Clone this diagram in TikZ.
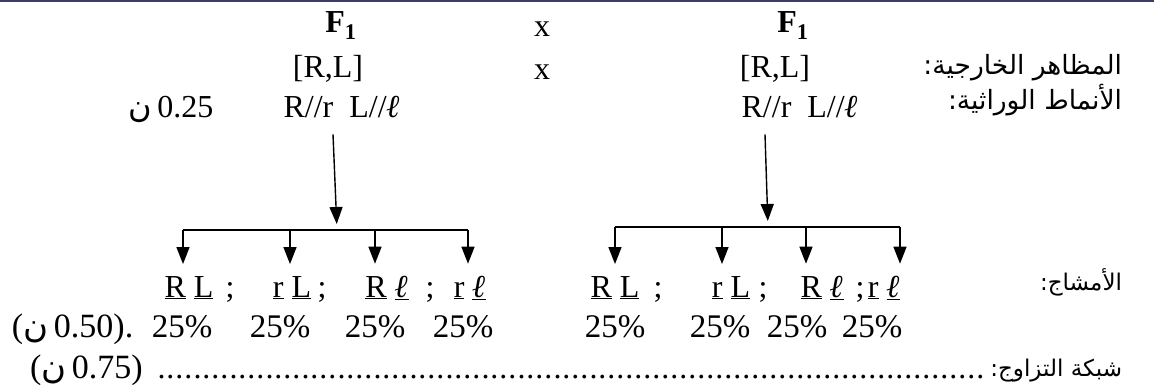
\documentclass[tikz,border=0pt]{standalone}
\usepackage{fontspec}
\setmainfont{Liberation Serif}
\newfontfamily\arf[Script=Arabic]{DejaVu Sans}
\usetikzlibrary{arrows.meta}
\TeXXeTstate=1
\newcommand{\lel}{\textbf{\textit{ℓ}}}
\newcommand{\uu}[1]{\underline{#1}}
\definecolor{topline}{RGB}{60,60,105}
\begin{document}
\begin{tikzpicture}[x=1pt,y=-1pt,
  every node/.style={inner sep=0pt,outer sep=0pt,font=\fontsize{32}{38}\selectfont},
  lbl/.style={anchor=base},
  lblw/.style={anchor=base west},
  arlbl/.style={anchor=base east,font=\arf\fontsize{26.5}{32}\selectfont},
  arlbls/.style={anchor=base east,font=\arf\fontsize{23}{28}\selectfont},
  pct/.style={anchor=base,font=\fontsize{33}{40}\selectfont},
  arr/.style={-{Triangle[length=17pt,width=13pt]},line width=1.4pt},
  barline/.style={line width=1.4pt}]
\useasboundingbox (0,0) rectangle (1154,385);
\fill[topline] (0,0) rectangle (1154,2.5);

% header rows
\node[lbl] (f1L) at (341,33) {\textbf{F\textsubscript{1}}};
\node[lbl] (xa) at (542,37) {x};
\node[lbl] (f1R) at (793,33) {\textbf{F\textsubscript{1}}};
\node[lbl] (phL) at (328,78) {[R,L]};
\node[lbl] (xb) at (542,80) {x};
\node[lbl] (phR) at (775,78) {[R,L]};
\node[lbl] (gtL) at (342,118) {R//r\ \ L//\lel};
\node[lbl] (gtR) at (800,118) {R//r\ \ L//\lel};
\node[lbl] (pts1) at (171,118) {{\arf ن}\,0.25};

% arabic labels
\node[arlbl] (a1) at (1122,75) {\beginR المظاهر الخارجية:\endR};
\node[arlbl] (a2) at (1122,110) {\beginR الأنماط الوراثية:\endR};
\node[arlbls] (a3) at (1122,290) {\beginR الأمشاج:\endR};
\node[arlbls] (a4) at (1122,376) {\beginR شبكة التزاوج:\endR};

% bars
\coordinate (jL) at (337,230);
\coordinate (bL1) at (183,230);
\coordinate (bL2) at (290,230);
\coordinate (bL3) at (375,230);
\coordinate (bL4) at (468,230);
\coordinate (jR) at (768,227);
\coordinate (bR1) at (615,227);
\coordinate (bR2) at (722,227);
\coordinate (bR3) at (806,227);
\coordinate (bR4) at (900,227);

% gametes
\node[lbl] (gL1) at (189,297) {\uu{R} \uu{L}};
\node[lbl] (sL1) at (230,297) {;};
\node[lbl] (gL2) at (292,297) {\uu{r} \uu{L}};
\node[lbl] (sL2) at (322,297) {;};
\node[lbl] (gL3) at (387,297) {\uu{R} \uu{\lel}};
\node[lbl] (sL3) at (430,297) {;};
\node[lbl] (gL4) at (470,297) {\uu{r} \uu{\lel}};
\node[lbl] (gR1) at (615,297) {\uu{R} \uu{L}};
\node[lbl] (sR1) at (658,297) {;};
\node[lbl] (gR2) at (731,297) {\uu{r} \uu{L}};
\node[lbl] (sR2) at (763,297) {;};
\node[lbl] (gR3) at (822,297) {\uu{R} \uu{\lel}};
\node[lbl] (sR3) at (860,297) {;};
\node[lbl] (gR4) at (884,297) {\uu{r} \uu{\lel}};

% percentages
\node[lblw,font=\fontsize{34}{40}\selectfont] (m1) at (12,337) {({\arf ن}\,0.50).};
\node[pct] (pL1) at (182,337) {25\%};
\node[pct] (pL2) at (280,337) {25\%};
\node[pct] (pL3) at (375,337) {25\%};
\node[pct] (pL4) at (463,337) {25\%};
\node[pct] (pR1) at (615,337) {25\%};
\node[pct] (pR2) at (720,337) {25\%};
\node[pct] (pR3) at (797,337) {25\%};
\node[pct] (pR4) at (872,337) {25\%};

% bottom row
\node[lblw,font=\fontsize{34}{40}\selectfont] (m2) at (30,378) {({\arf ن}\,0.75)};
\node[lblw] (dots) at (157,378) {\makebox[828pt]{\leaders\hbox to 9pt{\hss.\hss}\hfill}};

% connectors
\draw[arr,shorten >=6pt] ([xshift=-9pt,yshift=-16pt]gtL.south) -- (jL);
\draw[arr,shorten >=6pt] ([xshift=-35pt,yshift=-16pt]gtR.south) -- (jR);
\draw[barline] (bL1) -- (bL4);
\draw[barline] (bR1) -- (bR4);
\draw[arr,shorten >=12pt] (bL1) -- (bL1 |- gL1.north);
\draw[arr,shorten >=12pt] (bL2) -- (bL2 |- gL2.north);
\draw[arr,shorten >=12pt] (bL3) -- (bL3 |- gL3.north);
\draw[arr,shorten >=12pt] (bL4) -- (bL4 |- gL4.north);
\draw[arr,shorten >=12pt] (bR1) -- (bR1 |- gR1.north);
\draw[arr,shorten >=12pt] (bR2) -- (bR2 |- gR2.north);
\draw[arr,shorten >=12pt] (bR3) -- (bR3 |- gR3.north);
\draw[arr,shorten >=12pt] (bR4) -- (bR4 |- gR4.north);
\end{tikzpicture}
\end{document}
